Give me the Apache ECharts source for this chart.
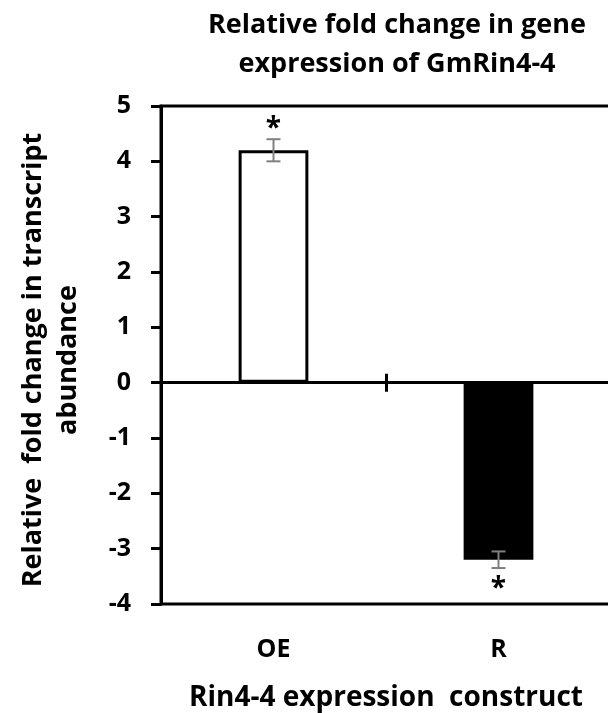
<!DOCTYPE html>
<html><head><meta charset="utf-8">
<script src="https://cdn.jsdelivr.net/npm/echarts@6/dist/echarts.min.js"></script>
<style>html,body{margin:0;padding:0;background:#fff}#c{width:608px;height:713px}</style>
</head><body><div id="c"></div>
<script>
const categories = ["OE", "R"];
const values = [4.2, -3.2];
const errors = [0.2, 0.15];
const marks = ["*", "*"];
const yTicks = [-4, 5, 1];

const FONT = "Open Sans";
const chart = echarts.init(document.getElementById('c'));
chart.setOption({
  animation: false,
  title: {
    text: "Relative fold change in gene\nexpression of GmRin4-4",
    left: 392, top: 1, textAlign: 'center',
    textStyle: {fontFamily: FONT, fontWeight: 'bold', fontSize: 27, lineHeight: 39, color: '#000'}
  },
  grid: {left: 161, right: -3, top: 106, bottom: 109, show: true, borderColor: '#000', borderWidth: 3,
    outerBoundsMode: 'none', containLabel: false},
  xAxis: [{
    type: 'category', data: categories, position: 'bottom',
    axisLine: {onZero: true, lineStyle: {color: '#000', width: 3}},
    axisTick: {show: true, length: 9, lineStyle: {color: '#000', width: 3}},
    axisLabel: {show: false}
  }, {
    type: 'category', data: categories, position: 'bottom',
    axisLine: {show: true, onZero: false, lineStyle: {color: '#000', width: 0, opacity: 0}},
    axisTick: {show: false},
    axisLabel: {margin: 33, fontFamily: FONT, fontWeight: 'bold', fontSize: 25, color: '#000'},
    name: "Rin4-4 expression  construct", nameLocation: 'middle', nameGap: 80,
    nameTextStyle: {fontFamily: FONT, fontWeight: 'bold', fontSize: 28, color: '#000'}
  }, {
    type: 'category', data: categories, position: 'bottom',
    axisLine: {show: true, onZero: true, onZeroAxisIndex: 0, lineStyle: {color: '#000', width: 0, opacity: 0}},
    axisTick: {show: true, inside: true, length: 9, lineStyle: {color: '#000', width: 3}},
    axisLabel: {show: false}
  }],
  yAxis: {
    type: 'value', min: yTicks[0], max: yTicks[1], interval: yTicks[2],
    axisLine: {show: true, lineStyle: {color: '#000', width: 3}},
    axisTick: {show: true, length: 10, lineStyle: {color: '#000', width: 3}},
    splitLine: {show: false},
    axisLabel: {margin: 30, fontFamily: FONT, fontWeight: 'bold', fontSize: 25, color: '#000'},
    name: "Relative  fold change in transcript\nabundance", nameLocation: 'middle', nameGap: 75,
    nameTextStyle: {fontFamily: FONT, fontWeight: 'bold', fontSize: 27, lineHeight: 35, color: '#000', padding: [0, 10, 0, 0]}
  },
  series: [{
    type: 'bar', barWidth: '31%',
    data: values.map((v, i) => ({value: v, itemStyle: {color: v >= 0 ? '#fff' : '#000'}})),
    itemStyle: {borderColor: '#000', borderWidth: 3}
  }, {
    type: 'custom',
    data: values.map((v, i) => [i, v, errors[i]]),
    renderItem: function (params, api) {
      const x = api.value(0), v = api.value(1), e = api.value(2);
      const hi = api.coord([x, v + e]), lo = api.coord([x, v - e]);
      const half = 7;
      const style = {stroke: '#808080', lineWidth: 2};
      const sign = v >= 0 ? 1 : -1;
      const tip = api.coord([x, v + sign * e]);
      return {type: 'group', children: [
        {type: 'line', shape: {x1: hi[0], y1: hi[1], x2: lo[0], y2: lo[1]}, style},
        {type: 'line', shape: {x1: hi[0] - half, y1: hi[1], x2: hi[0] + half, y2: hi[1]}, style},
        {type: 'line', shape: {x1: lo[0] - half, y1: lo[1], x2: lo[0] + half, y2: lo[1]}, style},
        {type: 'text', style: {text: marks[params.dataIndex], x: tip[0], y: tip[1] + (sign > 0 ? -10 : 21),
          align: 'center', verticalAlign: 'middle', fontFamily: FONT, fontWeight: 'bold', fontSize: 28, fill: '#000'}}
      ]};
    },
    z: 5
  }]
});
</script></body></html>
